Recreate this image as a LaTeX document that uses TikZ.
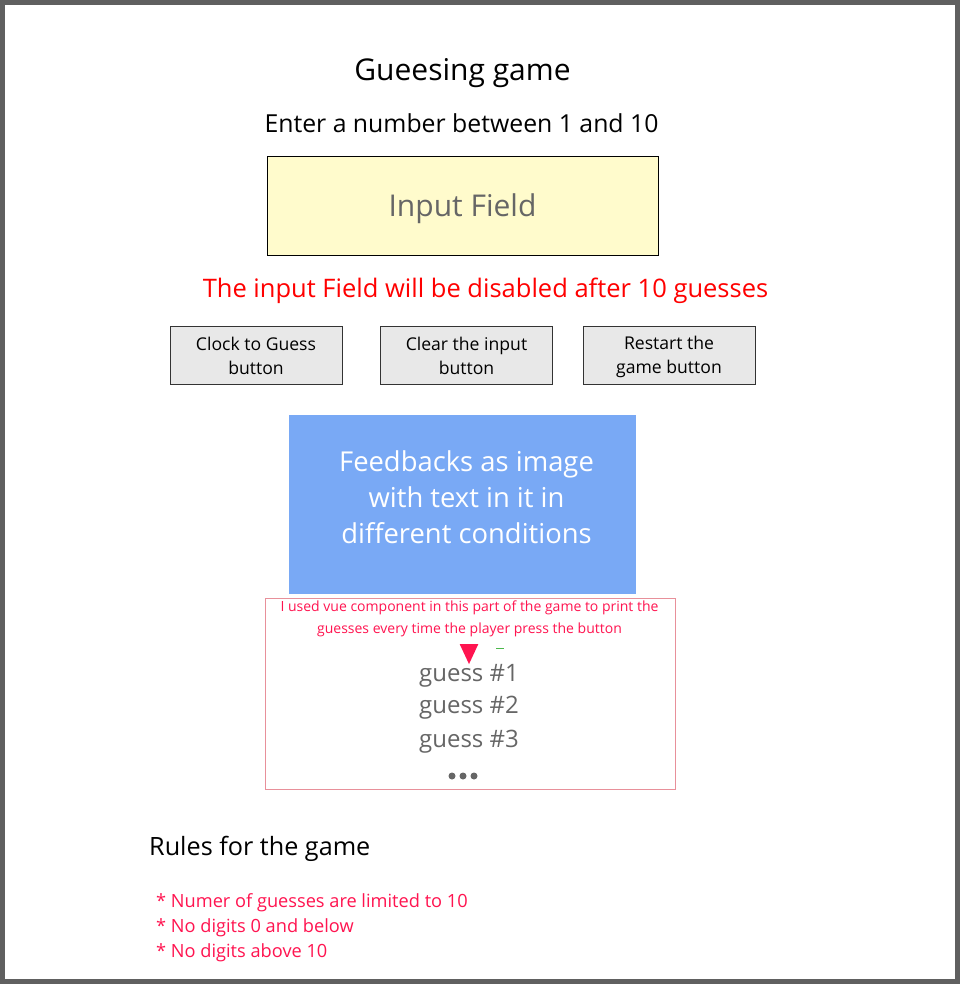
\documentclass[tikz,border=0pt]{standalone}
\usepackage{fontspec}
\setmainfont{Open Sans}
\usetikzlibrary{shapes.geometric}
\definecolor{framegray}{HTML}{606060}
\definecolor{inyellow}{HTML}{FFFBCC}
\definecolor{btngray}{HTML}{E8E8E8}
\definecolor{fbblue}{HTML}{79A9F5}
\definecolor{txtgray}{HTML}{666666}
\definecolor{pinkred}{HTML}{FF1450}
\definecolor{boxpink}{HTML}{E8909A}
\definecolor{hardred}{HTML}{FF0000}
\tikzset{
  btn/.style={draw=black!80, line width=0.8pt, fill=btngray, minimum width=172pt, minimum height=58pt, inner sep=0pt},
  btntext/.style={inner sep=0pt, align=center, font=\fontsize{17.6}{24}\selectfont},
  guess/.style={text=txtgray, font=\fontsize{24}{28}\selectfont, inner sep=0pt},
  rule/.style={text=pinkred, font=\fontsize{18.2}{22}\selectfont, inner sep=0pt, anchor=west}
}
\begin{document}
\begin{tikzpicture}[x=1pt,y=-1pt]
\useasboundingbox (0,0) rectangle (960,984);
\fill[white] (0,0) rectangle (960,984);
\draw[framegray, line width=5pt] (2.5,2.5) rectangle (957.5,981.5);
\node[inner sep=0pt, font=\fontsize{30}{34}\selectfont] (title) at (462.5,73) {Gueesing game};
\node[inner sep=0pt, font=\fontsize{24.8}{28}\selectfont] (enter) at (461.5,123) {Enter a number between 1 and 10};
\node[draw=black, line width=1pt, fill=inyellow, minimum width=391pt, minimum height=98pt, inner sep=0pt] (input) at (462.5,206) {};
\node[inner sep=0pt, text=txtgray, font=\fontsize{30}{34}\selectfont] (inputtext) at (462.5,209) {Input Field};
\node[inner sep=0pt, text=hardred, font=\fontsize{25.5}{30}\selectfont] (warn) at (485.5,291) {The input Field will be disabled after 10 guesses};
\node[btn] (b1) at (256,355) {};
\node[btn] (b2) at (466.5,355) {};
\node[btn] (b3) at (669,355) {};
\node[btntext] (b1t) at (256,356) {Clock to Guess\\button};
\node[btntext] (b2t) at (466.5,356) {Clear the input\\button};
\node[btntext] (b3t) at (669,357) {Restart the\\game button};
\node[fill=fbblue, minimum width=347pt, minimum height=179pt, inner sep=0pt] (fb) at (462.5,504.5) {};
\node[inner sep=0pt, text=white, align=center, font=\fontsize{27.4}{36}\selectfont] (fbtext) at (466.5,497) {Feedbacks as image\\with text in it in\\different conditions};
\node[draw=boxpink, line width=1pt, minimum width=410pt, minimum height=191pt, inner sep=0pt] (list) at (470,693.5) {};
\node[text=pinkred, align=center, inner sep=0pt, font=\fontsize{14}{22}\selectfont] (note) at (469.5,619) {I used vue component in this part of the game to print the\\guesses every time the player press the button};
\node[isosceles triangle, isosceles triangle apex angle=50, shape border rotate=-90, fill=pinkred, inner sep=0pt, minimum height=20pt, minimum width=14pt] (tri) at (469,650) {};
\node[guess] (g1) at (469,676) {guess \#1};
\node[guess] (g2) at (469,708) {guess \#2};
\node[guess] (g3) at (469,742) {guess \#3};
\node[inner sep=0pt] (dots) at (463,776) {\tikz[x=1pt,y=1pt]{\foreach \i in {0,11,22} \fill[txtgray] (\i,0) circle (3.5pt);}};
\coordinate (gd1) at (496,648);
\coordinate (gd2) at (504,648);
\draw[green!60!black!70, line width=0.8pt] (gd1) -- (gd2);
\node[inner sep=0pt, anchor=west, font=\fontsize{25.2}{30}\selectfont] (rules) at (149,849) {Rules for the game};
\node[rule] (r1) at (156,903) {* Numer of guesses are limited to 10};
\node[rule] (r2) at (156,928) {* No digits 0 and below};
\node[rule] (r3) at (156,953) {* No digits above 10};
\end{tikzpicture}
\end{document}
